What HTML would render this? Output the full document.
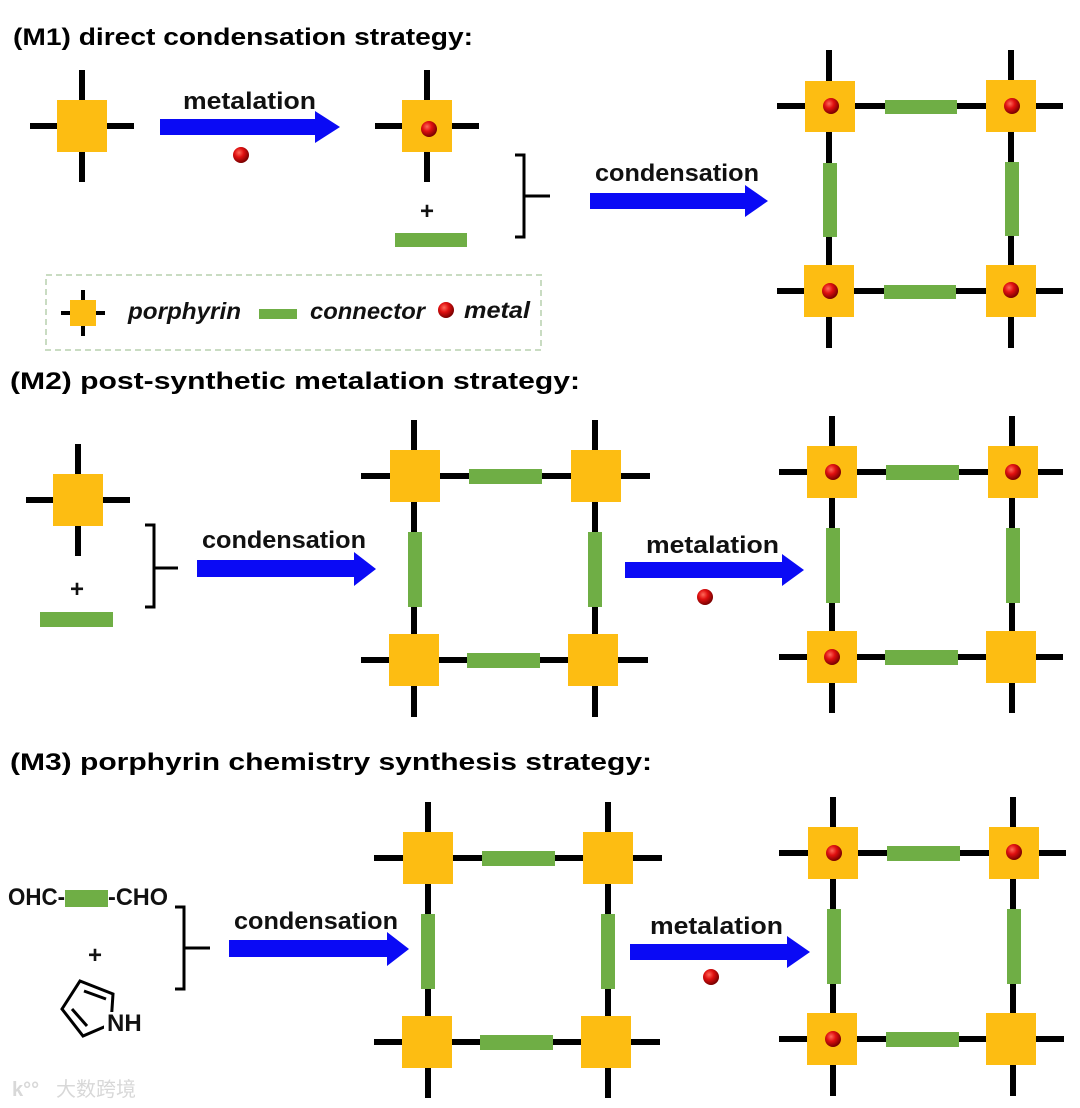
<!DOCTYPE html>
<html><head><meta charset="utf-8"><style>
html,body{margin:0;padding:0;background:#fff}
svg{display:block}
.t{font-family:"Liberation Sans",Arial,sans-serif;font-weight:bold;fill:#000}
.l{font-family:"Liberation Sans",Arial,sans-serif;font-weight:bold;fill:#111;font-size:24px}
.i{font-family:"Liberation Sans",Arial,sans-serif;font-weight:bold;font-style:italic;fill:#111;font-size:23px}
</style></head><body>
<svg width="1080" height="1108" viewBox="0 0 1080 1108" xmlns="http://www.w3.org/2000/svg">
<defs>
<radialGradient id="rb" cx="0.38" cy="0.35" r="0.65">
<stop offset="0" stop-color="#ff6a5a"/><stop offset="0.45" stop-color="#e01010"/><stop offset="1" stop-color="#7a0000"/>
</radialGradient>
<g id="por">
<line x1="-52" y1="0" x2="52" y2="0" stroke="#000" stroke-width="6"/>
<line x1="0" y1="-56" x2="0" y2="56" stroke="#000" stroke-width="6"/>
<rect x="-25" y="-26" width="50" height="52" fill="#fdbd12"/>
</g>
<circle id="m" r="8" fill="url(#rb)"/>
</defs>

<!-- titles -->
<text class="t" x="13" y="45" font-size="24" textLength="460" lengthAdjust="spacingAndGlyphs">(M1) direct condensation strategy:</text>
<text class="t" x="10" y="389" font-size="24" textLength="570" lengthAdjust="spacingAndGlyphs">(M2) post-synthetic metalation strategy:</text>
<text class="t" x="10" y="770" font-size="24" textLength="642" lengthAdjust="spacingAndGlyphs">(M3) porphyrin chemistry synthesis strategy:</text>

<!-- M1 -->
<use href="#por" x="82" y="126"/>
<polygon points="160,119 315,119 315,111 340,127 315,143 315,135 160,135" fill="#0a0af5"/>
<text class="l" x="183" y="109" textLength="133" lengthAdjust="spacingAndGlyphs">metalation</text>
<use href="#m" x="241" y="155"/>
<use href="#por" x="427" y="126"/>
<use href="#m" x="429" y="129"/>
<text class="l" x="427" y="219" text-anchor="middle" font-size="30">+</text>
<rect x="395" y="233" width="72" height="14" fill="#6fae45"/>
<path d="M515,155 H524 V237 H515 M524,196 H550" fill="none" stroke="#000" stroke-width="3"/>
<polygon points="590,193 745,193 745,185 768,201 745,217 745,209 590,209" fill="#0a0af5"/>
<text class="l" x="595" y="181" textLength="164" lengthAdjust="spacingAndGlyphs">condensation</text>

<!-- M1 frame -->
<g stroke="#000" stroke-width="6">
<line x1="777" y1="106" x2="1063" y2="106"/><line x1="777" y1="291" x2="1063" y2="291"/>
<line x1="829" y1="50" x2="829" y2="348"/><line x1="1011" y1="50" x2="1011" y2="348"/>
</g>
<g fill="#fdbd12">
<rect x="805" y="81" width="50" height="51"/><rect x="986" y="80" width="50" height="52"/>
<rect x="804" y="265" width="50" height="52"/><rect x="986" y="265" width="50" height="52"/>
</g>
<g fill="#6fae45">
<rect x="885" y="100" width="72" height="14"/><rect x="884" y="285" width="72" height="14"/>
<rect x="823" y="163" width="14" height="74"/><rect x="1005" y="162" width="14" height="74"/>
</g>
<use href="#m" x="831" y="106"/><use href="#m" x="1012" y="106"/>
<use href="#m" x="830" y="291"/><use href="#m" x="1011" y="290"/>

<!-- legend -->
<rect x="46" y="275" width="495" height="75" fill="none" stroke="#c9dcc2" stroke-width="2" stroke-dasharray="6,4"/>
<line x1="61" y1="313" x2="105" y2="313" stroke="#000" stroke-width="4"/>
<line x1="83" y1="290" x2="83" y2="336" stroke="#000" stroke-width="4"/>
<rect x="70" y="300" width="26" height="26" fill="#fdbd12"/>
<text class="i" x="128" y="319" textLength="113" lengthAdjust="spacingAndGlyphs">porphyrin</text>
<rect x="259" y="309" width="38" height="10" fill="#6fae45"/>
<text class="i" x="310" y="319" textLength="115" lengthAdjust="spacingAndGlyphs">connector</text>
<use href="#m" x="446" y="310"/>
<text class="i" x="464" y="318" textLength="66" lengthAdjust="spacingAndGlyphs">metal</text>

<!-- M2 -->
<use href="#por" x="78" y="500"/>
<text class="l" x="77" y="597" text-anchor="middle" font-size="30">+</text>
<rect x="40" y="612" width="73" height="15" fill="#6fae45"/>
<path d="M145,525 H154 V607 H145 M154,568 H178" fill="none" stroke="#000" stroke-width="3"/>
<polygon points="197,560 354,560 354,552 376,569 354,586 354,577 197,577" fill="#0a0af5"/>
<text class="l" x="202" y="548" textLength="164" lengthAdjust="spacingAndGlyphs">condensation</text>

<g stroke="#000" stroke-width="6">
<line x1="361" y1="476" x2="650" y2="476"/><line x1="361" y1="660" x2="648" y2="660"/>
<line x1="414" y1="420" x2="414" y2="717"/><line x1="595" y1="420" x2="595" y2="717"/>
</g>
<g fill="#fdbd12">
<rect x="390" y="450" width="50" height="52"/><rect x="571" y="450" width="50" height="52"/>
<rect x="389" y="634" width="50" height="52"/><rect x="568" y="634" width="50" height="52"/>
</g>
<g fill="#6fae45">
<rect x="469" y="469" width="73" height="15" /><rect x="467" y="653" width="73" height="15"/>
<rect x="408" y="532" width="14" height="75"/><rect x="588" y="532" width="14" height="75"/>
</g>

<polygon points="625,562 782,562 782,554 804,570 782,586 782,578 625,578" fill="#0a0af5"/>
<text class="l" x="646" y="553" textLength="133" lengthAdjust="spacingAndGlyphs">metalation</text>
<use href="#m" x="705" y="597"/>

<g stroke="#000" stroke-width="6">
<line x1="779" y1="472" x2="1063" y2="472"/><line x1="779" y1="657" x2="1063" y2="657"/>
<line x1="832" y1="416" x2="832" y2="713"/><line x1="1012" y1="416" x2="1012" y2="713"/>
</g>
<g fill="#fdbd12">
<rect x="807" y="446" width="50" height="52"/><rect x="988" y="446" width="50" height="52"/>
<rect x="807" y="631" width="50" height="52"/><rect x="986" y="631" width="50" height="52"/>
</g>
<g fill="#6fae45">
<rect x="886" y="465" width="73" height="15"/><rect x="885" y="650" width="73" height="15"/>
<rect x="826" y="528" width="14" height="75"/><rect x="1006" y="528" width="14" height="75"/>
</g>
<use href="#m" x="833" y="472"/><use href="#m" x="1013" y="472"/><use href="#m" x="832" y="657"/>

<!-- M3 -->
<text class="l" x="8" y="905" font-size="22" textLength="57" lengthAdjust="spacingAndGlyphs">OHC-</text>
<rect x="65" y="890" width="43" height="17" fill="#6fae45"/>
<text class="l" x="108" y="905" font-size="22" textLength="60" lengthAdjust="spacingAndGlyphs">-CHO</text>
<text class="l" x="95" y="963" text-anchor="middle" font-size="30">+</text>
<g fill="none" stroke="#000" stroke-width="3">
<polygon points="80,981 113,994 111,1024 83,1036 62,1009"/>
<line x1="84" y1="991" x2="106" y2="999"/>
<line x1="72" y1="1009" x2="87" y2="1026"/>
</g>
<rect x="104" y="1012" width="32" height="22" fill="#fff"/>
<text class="l" x="107" y="1031" font-size="16">NH</text>
<path d="M175,907 H184 V989 H175 M184,948 H210" fill="none" stroke="#000" stroke-width="3"/>
<polygon points="229,940 387,940 387,932 409,949 387,966 387,957 229,957" fill="#0a0af5"/>
<text class="l" x="234" y="929" textLength="164" lengthAdjust="spacingAndGlyphs">condensation</text>

<g stroke="#000" stroke-width="6">
<line x1="374" y1="858" x2="662" y2="858"/><line x1="374" y1="1042" x2="660" y2="1042"/>
<line x1="428" y1="802" x2="428" y2="1098"/><line x1="608" y1="802" x2="608" y2="1098"/>
</g>
<g fill="#fdbd12">
<rect x="403" y="832" width="50" height="52"/><rect x="583" y="832" width="50" height="52"/>
<rect x="402" y="1016" width="50" height="52"/><rect x="581" y="1016" width="50" height="52"/>
</g>
<g fill="#6fae45">
<rect x="482" y="851" width="73" height="15"/><rect x="480" y="1035" width="73" height="15"/>
<rect x="421" y="914" width="14" height="75"/><rect x="601" y="914" width="14" height="75"/>
</g>

<polygon points="630,944 787,944 787,936 810,952 787,968 787,960 630,960" fill="#0a0af5"/>
<text class="l" x="650" y="934" textLength="133" lengthAdjust="spacingAndGlyphs">metalation</text>
<use href="#m" x="711" y="977"/>

<g stroke="#000" stroke-width="6">
<line x1="779" y1="853" x2="1066" y2="853"/><line x1="779" y1="1039" x2="1064" y2="1039"/>
<line x1="833" y1="797" x2="833" y2="1096"/><line x1="1013" y1="797" x2="1013" y2="1096"/>
</g>
<g fill="#fdbd12">
<rect x="808" y="827" width="50" height="52"/><rect x="989" y="827" width="50" height="52"/>
<rect x="807" y="1013" width="50" height="52"/><rect x="986" y="1013" width="50" height="52"/>
</g>
<g fill="#6fae45">
<rect x="887" y="846" width="73" height="15"/><rect x="886" y="1032" width="73" height="15"/>
<rect x="827" y="909" width="14" height="75"/><rect x="1007" y="909" width="14" height="75"/>
</g>
<use href="#m" x="834" y="853"/><use href="#m" x="1014" y="852"/><use href="#m" x="833" y="1039"/>

<!-- watermark -->
<text x="12" y="1096" font-family="Liberation Sans,sans-serif" font-size="20" fill="#d8d8d8" font-weight="bold">k°°</text>
<text x="56" y="1096" font-family="'Liberation Sans','Noto Sans CJK SC',sans-serif" font-size="20" fill="#d8d8d8">大数跨境</text>
</svg>
</body></html>
